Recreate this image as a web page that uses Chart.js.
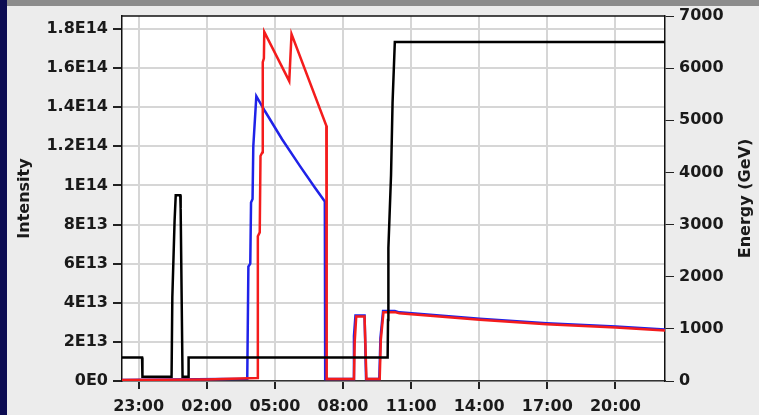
<!DOCTYPE html>
<html>
<head>
<meta charset="utf-8">
<script src="https://cdn.jsdelivr.net/npm/chart.js@4.4.1/dist/chart.umd.min.js"></script>
<style>
    html, body { margin: 0; padding: 0; background: #ececec; }
    #chart { display: block; }
</style>
</head>
<body>
<canvas id="chart" width="759" height="415"></canvas>
<script>
// Energy (GeV), right axis
var energyTimes = ['22:16', '23:09', '23:10', '00:27', '00:29', '00:35', '00:38', '00:50', '00:51', '00:56',
                   '01:11', '01:12', '09:58', '09:59', '10:00', '10:07', '10:11', '10:17', '22:11'];
var energyGeV = [450, 450, 80, 80, 1600, 3080, 3560, 3560, 3310, 80,
                 80, 450, 450, 1170, 2550, 3950, 5330, 6500, 6500];

// Beam 1 intensity (red), left axis, in units of 1E13
var redTimes = ['22:16', '02:00', '04:13', '04:15', '04:20', '04:22', '04:27', '04:28', '04:31', '04:32',
                '05:38', '05:44', '07:16', '07:17', '08:29', '08:31', '08:35', '08:57', '09:02', '09:37',
                '09:40', '09:47', '10:17', '10:29', '14:01', '16:58', '20:01', '22:11'];
var redE13 = [0.05, 0.08, 0.15, 7.4, 7.6, 11.5, 11.7, 16.3, 16.5, 17.85,
              15.33, 17.74, 13.05, 0.1, 0.1, 2.0, 3.3, 3.3, 0.1, 0.1,
              2.1, 3.52, 3.52, 3.46, 3.13, 2.9, 2.74, 2.58];

// Beam 2 intensity (blue), left axis, in units of 1E13
var blueTimes = ['22:16', '03:47', '03:50', '03:55', '03:57', '04:01', '04:03', '04:11', '04:34', '05:19',
                 '06:06', '06:46', '07:12', '07:13', '08:27', '08:29', '08:33', '08:57', '09:01', '09:36',
                 '09:39', '09:46', '10:17', '10:29', '14:01', '16:58', '20:01', '22:11'];
var blueE13 = [0.05, 0.12, 5.85, 6.0, 9.13, 9.3, 12.0, 14.56, 13.79, 12.36,
               11.0, 9.88, 9.18, 0.1, 0.1, 2.3, 3.35, 3.35, 0.1, 0.1,
               2.2, 3.58, 3.58, 3.51, 3.18, 2.95, 2.79, 2.63];

// axis ticks
var xTickLabels = ['23:00', '02:00', '05:00', '08:00', '11:00', '14:00', '17:00', '20:00'];
var xStart = '22:16';
var xEnd = '22:11';
var intensityTicks = [0, 2e13, 4e13, 6e13, 8e13, 1e14, 1.2e14, 1.4e14, 1.6e14, 1.8e14];
var intensityTickLabels = ['0E0', '2E13', '4E13', '6E13', '8E13', '1E14', '1.2E14', '1.4E14', '1.6E14', '1.8E14'];
var intensityMax = 1.866e14;
var energyTicks = [0, 1000, 2000, 3000, 4000, 5000, 6000, 7000];
var energyMax = 7000;

function clock(t) {
    var p = t.split(':');
    return parseInt(p[0], 10) + parseInt(p[1], 10) / 60;
}

// clock time -> hours since midnight of the first day; anything before the start is next day
function toHours(t, isEnd) {
    var h = clock(t);
    var start = clock(xStart);
    return (h < start || (isEnd && h <= start)) ? h + 24 : h;
}

function points(times, values, scale) {
    return times.map(function (t, i) {
        return { x: toHours(t, i > 0), y: values[i] * scale };
    });
}

var tickFont = { family: 'DejaVu Sans', size: 16, weight: 'bold' };
var titleFont = { family: 'DejaVu Sans', size: 16, weight: 'bold' };

var framePlugin = {
    id: 'frame',
    beforeDraw: function (chart) {
        var ctx = chart.ctx;
        var a = chart.chartArea;
        ctx.save();
        ctx.fillStyle = '#ececec';
        ctx.fillRect(0, 0, chart.width, chart.height);
        // window decorations seen around the screenshot
        ctx.fillStyle = '#8c8c8c';
        ctx.fillRect(0, 0, chart.width, 6);
        ctx.fillStyle = '#0c0c52';
        ctx.fillRect(0, 0, 7, chart.height);
        ctx.fillStyle = '#ffffff';
        ctx.fillRect(a.left, a.top, a.right - a.left, a.bottom - a.top);
        ctx.restore();
    },
    afterDraw: function (chart) {
        var ctx = chart.ctx;
        var a = chart.chartArea;
        ctx.save();
        ctx.strokeStyle = '#111';
        ctx.lineWidth = 1.5;
        ctx.beginPath();
        ctx.moveTo(a.left, a.top);
        ctx.lineTo(a.right, a.top);
        ctx.stroke();
        // right axis title reads bottom to top
        ctx.translate(746, (a.top + a.bottom) / 2);
        ctx.rotate(-Math.PI / 2);
        ctx.font = 'bold 16px "DejaVu Sans"';
        ctx.fillStyle = '#1a1a1a';
        ctx.textAlign = 'center';
        ctx.textBaseline = 'middle';
        ctx.fillText('Energy (GeV)', 0, 0);
        ctx.restore();
    }
};

new Chart(document.getElementById('chart').getContext('2d'), {
    type: 'line',
    data: {
        datasets: [{
            label: 'Energy',
            data: points(energyTimes, energyGeV, 1),
            yAxisID: 'yE',
            borderColor: '#000000',
            borderWidth: 2.5,
            order: 0
        }, {
            label: 'Intensity B1',
            data: points(redTimes, redE13, 1e13),
            yAxisID: 'yI',
            borderColor: '#f41c1c',
            borderWidth: 2.5,
            order: 1
        }, {
            label: 'Intensity B2',
            data: points(blueTimes, blueE13, 1e13),
            yAxisID: 'yI',
            borderColor: '#1f22e8',
            borderWidth: 2.5,
            order: 2
        }]
    },
    options: {
        responsive: false,
        animation: false,
        layout: { padding: { top: 16, left: 0, right: 0, bottom: 0 } },
        elements: { point: { radius: 0 }, line: { tension: 0 } },
        plugins: { legend: { display: false }, tooltip: { enabled: false } },
        scales: {
            x: {
                type: 'linear',
                min: toHours(xStart),
                max: toHours(xEnd, true),
                afterBuildTicks: function (axis) {
                    axis.ticks = xTickLabels.map(function (l) { return { value: toHours(l) }; });
                },
                afterFit: function (axis) { axis.height = 34; },
                ticks: {
                    font: tickFont,
                    color: '#1a1a1a',
                    padding: 8,
                    maxRotation: 0,
                    autoSkip: false,
                    callback: function (v, i) { return xTickLabels[i]; }
                },
                grid: { color: '#d6d6d6', lineWidth: 2, tickColor: '#222', tickLength: 8 },
                border: { color: '#333', width: 1.5 }
            },
            yI: {
                type: 'linear',
                position: 'left',
                min: 0,
                max: intensityMax,
                afterBuildTicks: function (axis) {
                    axis.ticks = intensityTicks.map(function (v) { return { value: v }; });
                },
                afterFit: function (axis) { axis.width = 122; },
                ticks: {
                    font: tickFont,
                    color: '#1a1a1a',
                    padding: 5,
                    callback: function (v, i) { return intensityTickLabels[i]; }
                },
                grid: { color: '#d6d6d6', lineWidth: 2, tickColor: '#222', tickLength: 9 },
                border: { color: '#111', width: 1.5 },
                title: {
                    display: true,
                    text: 'Intensity',
                    font: titleFont,
                    color: '#1a1a1a',
                    padding: { top: 15, bottom: 0 }
                }
            },
            yE: {
                type: 'linear',
                position: 'right',
                min: 0,
                max: energyMax,
                afterBuildTicks: function (axis) {
                    axis.ticks = energyTicks.map(function (v) { return { value: v }; });
                },
                afterFit: function (axis) { axis.width = 94; },
                ticks: {
                    font: tickFont,
                    color: '#1a1a1a',
                    padding: 5,
                    callback: function (v) { return String(v); }
                },
                grid: { drawOnChartArea: false, tickColor: '#222', tickLength: 9 },
                border: { color: '#111', width: 1.5 }
            }
        }
    },
    plugins: [framePlugin]
});
</script>
</body>
</html>
